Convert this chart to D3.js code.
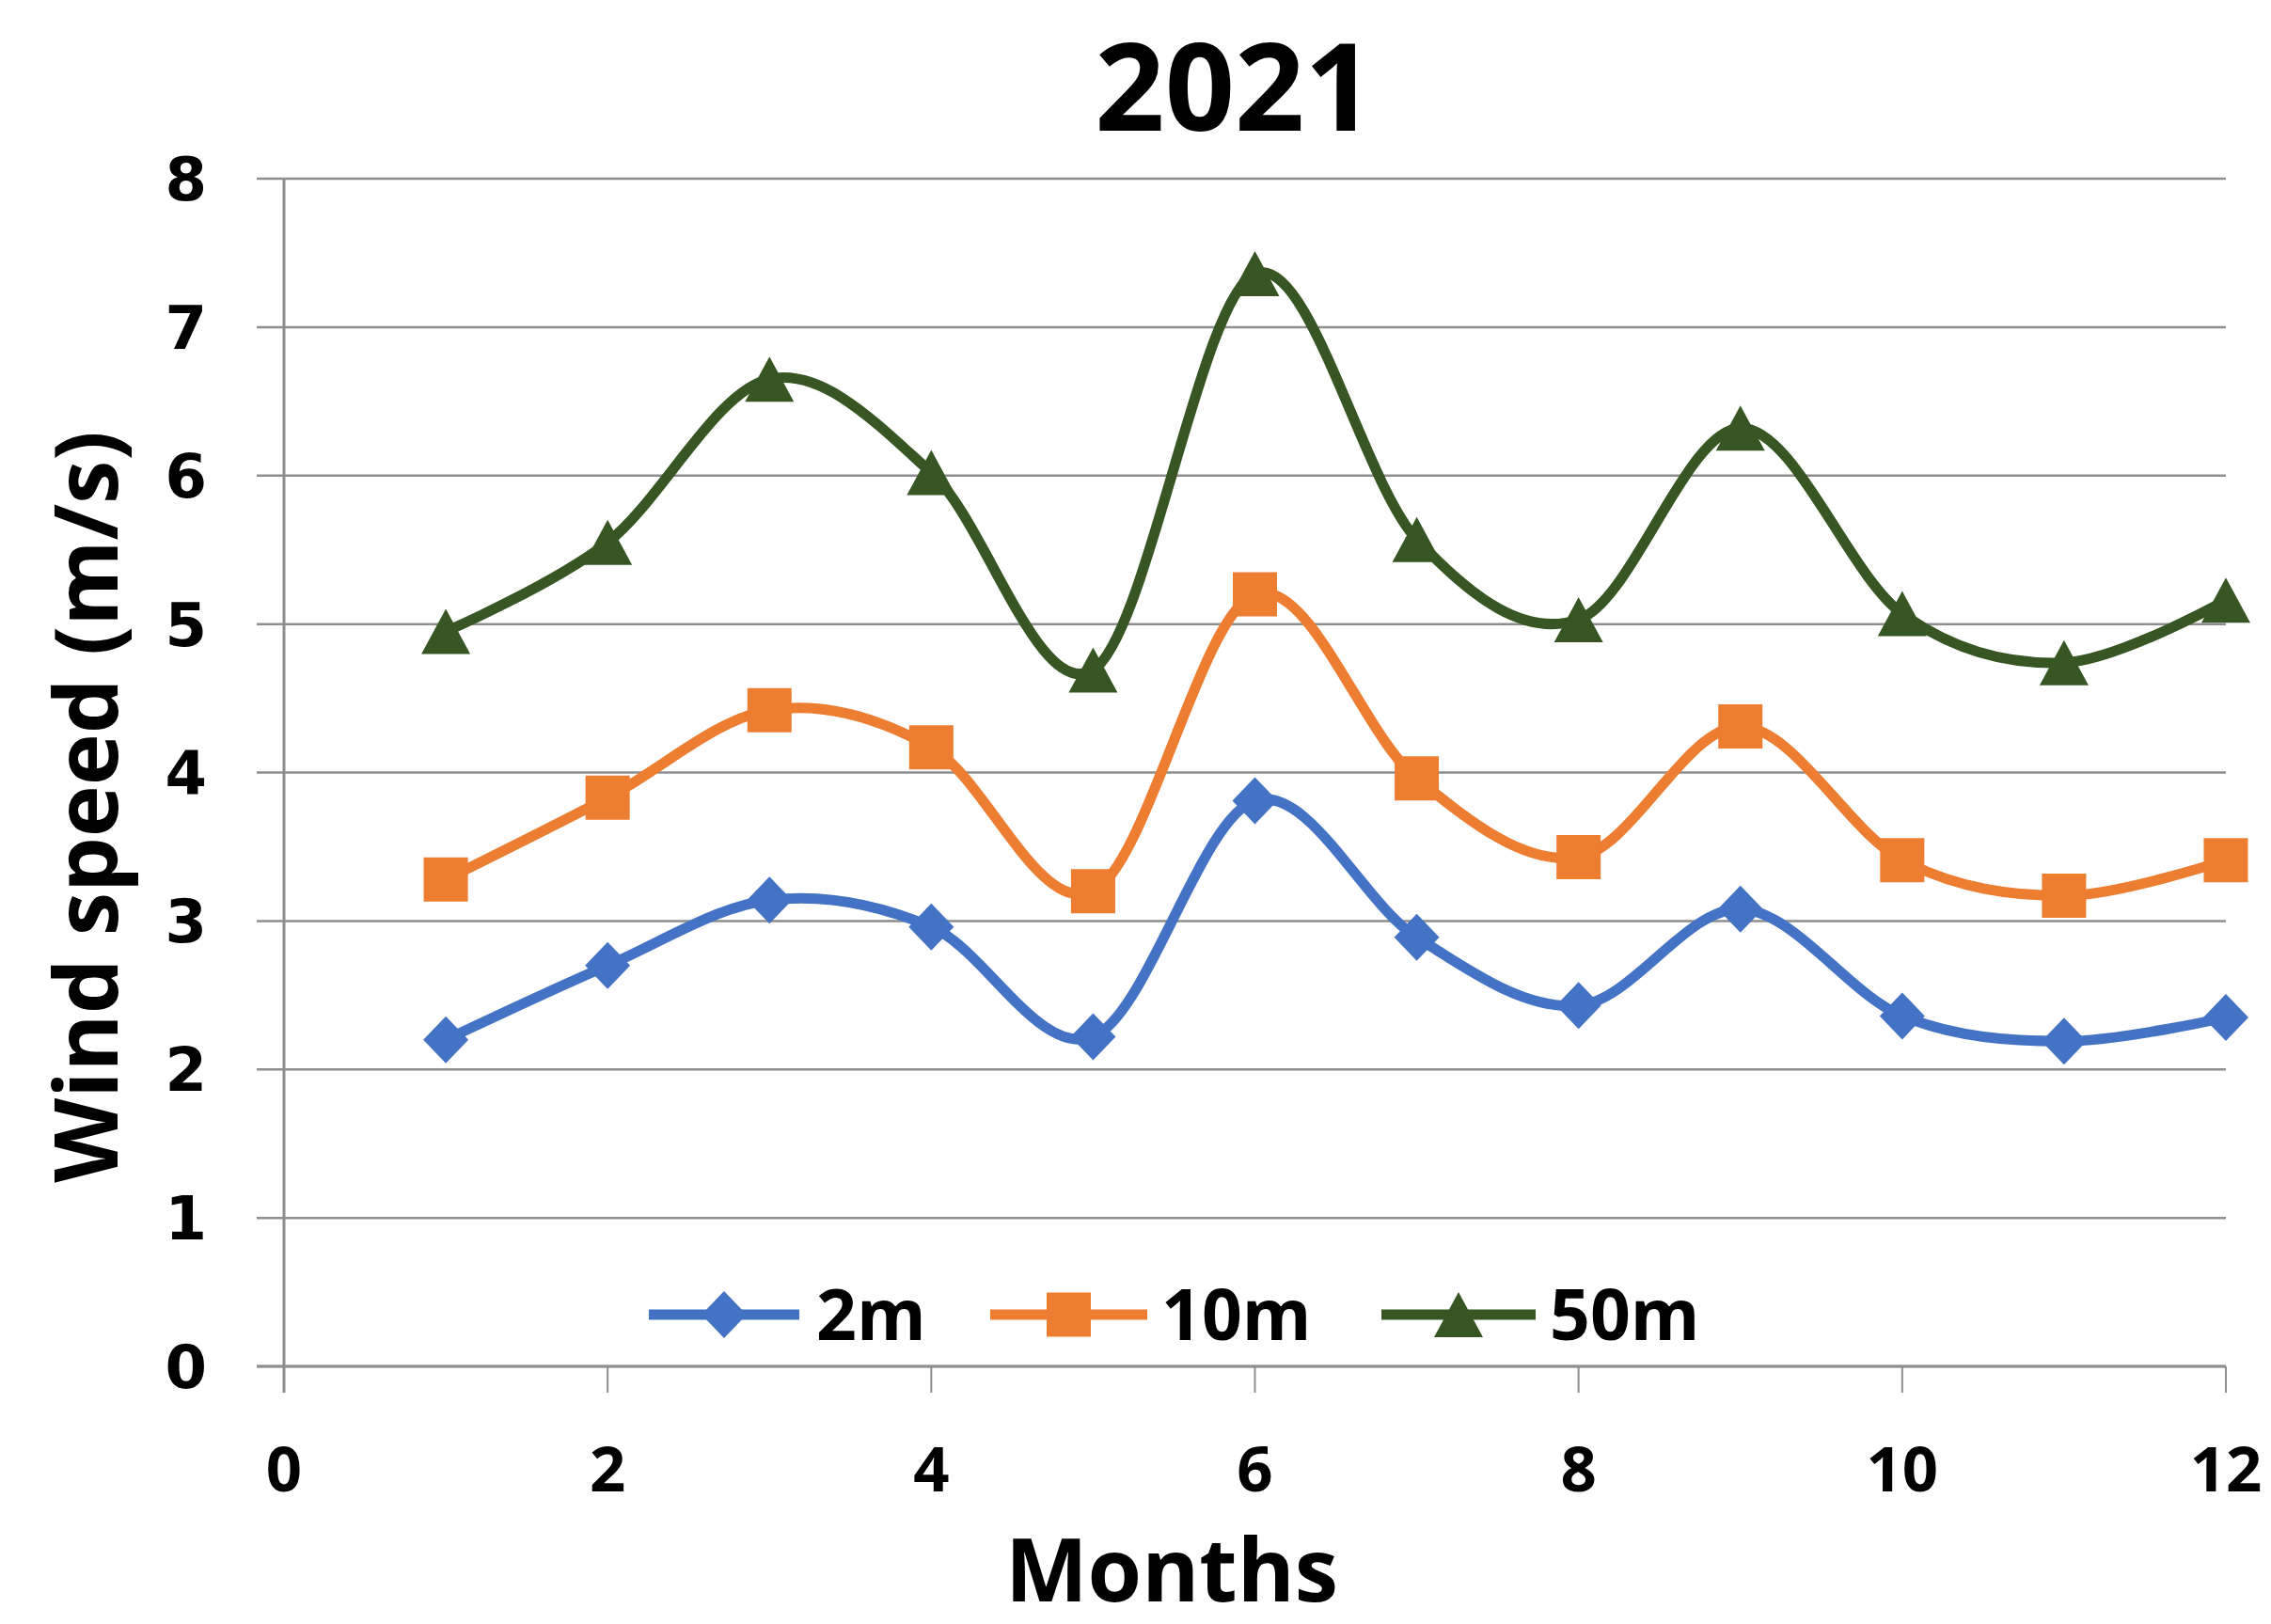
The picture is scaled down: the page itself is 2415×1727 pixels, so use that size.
<!DOCTYPE html>
<html>
<head>
<meta charset="utf-8">
<script src="https://cdn.jsdelivr.net/npm/d3@7"></script>
<style>
  html, body { margin: 0; padding: 0; background: #fff; }
  svg { display: block; font-family: "Open Sans", "DejaVu Sans", sans-serif; font-weight: 700; }
  .ytick { font-family: "DejaVu Sans", sans-serif; }
</style>
</head>
<body>
<svg id="chart" width="2415" height="1727"></svg>
<script>
// Monthly mean wind speed at three heights, 2021
const months = [1, 2, 3, 4, 5, 6, 7, 8, 9, 10, 11, 12];
const speed2m  = [2.20, 2.70, 3.14, 2.96, 2.22, 3.81, 2.89, 2.43, 3.08, 2.36, 2.19, 2.35];
const speed10m = [3.28, 3.83, 4.42, 4.17, 3.20, 5.20, 3.96, 3.43, 4.31, 3.41, 3.17, 3.41];
const speed50m = [4.95, 5.55, 6.65, 6.02, 4.69, 7.36, 5.57, 5.03, 6.32, 5.07, 4.74, 5.16];
const seriesNames = ["2m", "10m", "50m"];
const xTicks = [0, 2, 4, 6, 8, 10, 12];
const yTicks = [0, 1, 2, 3, 4, 5, 6, 7, 8];

const colors = ["#4472C4", "#ED7D31", "#375623"];
const shapes = ["diamond", "square", "triangle"];

const svg = d3.select("#chart");
const plotLeft = 302, plotRight = 2367, plotTop = 190, plotBottom = 1453;

const x = d3.scaleLinear().domain([0, 12]).range([plotLeft, plotRight]);
const y = d3.scaleLinear().domain([0, 8]).range([plotBottom, plotTop]);

const gridColor = "#8e8e8e";

// horizontal gridlines (extend left of the axis like tick marks)
svg.append("g").selectAll("line").data(yTicks).join("line")
  .attr("x1", plotLeft - 29).attr("x2", plotRight)
  .attr("y1", d => y(d)).attr("y2", d => y(d))
  .attr("stroke", gridColor).attr("stroke-width", 2.5);

// y axis line
svg.append("line")
  .attr("x1", plotLeft).attr("x2", plotLeft)
  .attr("y1", y(8)).attr("y2", y(0) + 28)
  .attr("stroke", gridColor).attr("stroke-width", 3);

// x axis line
svg.append("line")
  .attr("x1", plotLeft - 29).attr("x2", plotRight)
  .attr("y1", y(0)).attr("y2", y(0))
  .attr("stroke", gridColor).attr("stroke-width", 3);

// x tick marks
svg.append("g").selectAll("line").data(xTicks).join("line")
  .attr("x1", d => x(d)).attr("x2", d => x(d))
  .attr("y1", y(0)).attr("y2", y(0) + 28)
  .attr("stroke", gridColor).attr("stroke-width", 2);

// tick labels
svg.append("g").selectAll("text").data(yTicks).join("text")
  .attr("class", "ytick")
  .attr("x", 220).attr("y", d => y(d))
  .attr("dy", "0.36em")
  .attr("text-anchor", "end")
  .attr("font-size", 64)
  .text(d => d);

svg.append("g").selectAll("text").data(xTicks).join("text")
  .attr("x", d => x(d)).attr("y", 1586)
  .attr("text-anchor", "middle")
  .attr("font-size", 67)
  .text(d => d);

// titles
svg.append("text")
  .attr("x", 1313).attr("y", 139)
  .attr("text-anchor", "middle")
  .attr("font-size", 130)
  .text("2021");

svg.append("text")
  .attr("x", 1246).attr("y", 1703)
  .attr("text-anchor", "middle")
  .attr("font-size", 93)
  .text("Months");

svg.append("text")
  .attr("transform", "translate(125,858) rotate(-90)")
  .attr("text-anchor", "middle")
  .attr("font-size", 93)
  .text("Wind speed (m/s)");

// marker shape paths centred at the origin
function markerPath(shape) {
  if (shape === "diamond") return "M0,-25L24,0L0,25L-24,0Z";
  if (shape === "square") return "M-23.5,-23.5H23.5V23.5H-23.5Z";
  return "M0,-24L26,24H-26Z";
}

const line = d3.line()
  .x(d => x(d[0])).y(d => y(d[1]))
  .curve(d3.curveCardinal.tension(0));

const allSeries = [speed2m, speed10m, speed50m];

allSeries.forEach((vals, i) => {
  const pts = months.map((m, k) => [m, vals[k]]);
  const g = svg.append("g");
  g.append("path")
    .attr("d", line(pts))
    .attr("fill", "none")
    .attr("stroke", colors[i])
    .attr("stroke-width", 11)
    .attr("stroke-linejoin", "round")
    .attr("stroke-linecap", "round");
  g.selectAll("path.marker").data(pts).join("path")
    .attr("class", "marker")
    .attr("transform", d => `translate(${x(d[0])},${y(d[1])})`)
    .attr("d", markerPath(shapes[i]))
    .attr("fill", colors[i]);
});

// legend
const legendY = 1398;
const legendItems = [
  { x0: 690, x1: 850, tx: 868 },
  { x0: 1053, x1: 1220, tx: 1235 },
  { x0: 1469, x1: 1633, tx: 1648 }
];
const lg = svg.append("g");
legendItems.forEach((it, i) => {
  lg.append("line")
    .attr("x1", it.x0).attr("x2", it.x1)
    .attr("y1", legendY).attr("y2", legendY)
    .attr("stroke", colors[i]).attr("stroke-width", 11);
  lg.append("path")
    .attr("transform", `translate(${(it.x0 + it.x1) / 2},${legendY})`)
    .attr("d", markerPath(shapes[i]))
    .attr("fill", colors[i]);
  lg.append("text")
    .attr("x", it.tx).attr("y", legendY + 27)
    .attr("font-size", 75)
    .text(seriesNames[i]);
});
</script>
</body>
</html>
